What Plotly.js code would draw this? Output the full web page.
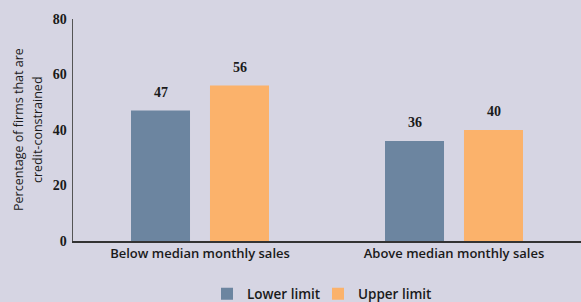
<!DOCTYPE html>
<html><head><meta charset="utf-8">
<script src="https://cdn.plot.ly/plotly-3.0.1.min.js"></script>
<style>html,body{margin:0;padding:0;background:#d6d5e3;}</style>
</head><body><div id="chart" style="width:581px;height:302px;"></div>
<script>
const categories = ["Below median monthly sales", "Above median monthly sales"];
const lowerLimit = [47, 36];
const upperLimit = [56, 40];
const seriesNames = ["Lower limit", "Upper limit"];
const yTicks = [0, 20, 40, 60, 80];
const yTitleLines = ["Percentage of firms that are", "credit-constrained"];

const colors = ["#6c85a0", "#fbb26b"];
const traces = [
  {type: "bar", name: seriesNames[0], x: categories, y: lowerLimit, marker: {color: colors[0]}, hoverinfo: "none", legend: "legend"},
  {type: "bar", name: seriesNames[1], x: categories, y: upperLimit, marker: {color: colors[1]}, hoverinfo: "none", legend: "legend2"}
];
const annotations = [];
[lowerLimit, upperLimit].forEach((vals, si) => {
  vals.forEach((v, i) => {
    annotations.push({x: categories[i], y: v, xref: "x", yref: "y", text: String(v),
      showarrow: false, yanchor: "bottom", yshift: 9, xshift: si === 0 ? -39.5 : 39.5,
      font: {family: "Liberation Serif, serif", size: 14, color: "#1a1a1a", weight: "bold"}});
  });
});
// y-axis title lines
const plotL = 73, plotW = 508;
[18, 37].forEach((px, k) => {
  annotations.push({xref: "paper", yref: "paper", x: (px - plotL) / plotW, y: 0.5 + (241 - 130 - 111) / 222,
    text: yTitleLines[k], textangle: -90, showarrow: false, xanchor: "center", yanchor: "middle",
    font: {family: "Open Sans, sans-serif", size: 12.5, color: "#1a1a1a"}});
});
const legendFont = {family: "Open Sans, sans-serif", size: 13.5, color: "#1a1a1a", weight: 600};
const layout = {
  width: 581, height: 302,
  paper_bgcolor: "#d6d5e3", plot_bgcolor: "#d6d5e3",
  margin: {l: 73, r: 0, t: 19, b: 61},
  barmode: "group", bargap: 0.378, bargroupgap: 0.253,
  showlegend: true,
  legend: {orientation: "h", x: (207 - plotL) / plotW, xanchor: "left", yref: "container", y: 8 / 302, yanchor: "middle",
    font: legendFont, bgcolor: "rgba(0,0,0,0)"},
  legend2: {orientation: "h", x: (318 - plotL) / plotW, xanchor: "left", yref: "container", y: 8 / 302, yanchor: "middle",
    font: legendFont, bgcolor: "rgba(0,0,0,0)"},
  xaxis: {type: "category", range: [-0.5, 1.5], showline: true, linecolor: "#333", linewidth: 1.5,
    ticks: "", showgrid: false, zeroline: false, automargin: false,
    tickfont: {family: "Open Sans, sans-serif", size: 13, color: "#1a1a1a", weight: 600}},
  yaxis: {range: [0, 80], tickvals: yTicks, ticktext: yTicks.map(String), showline: true,
    linecolor: "#555", linewidth: 1.5, ticks: "", showgrid: false, zeroline: false, automargin: false,
    tickfont: {family: "Liberation Serif, serif", size: 14, color: "#1a1a1a", weight: "bold"},
    ticklabelstandoff: 2},
  annotations: annotations
};
Plotly.newPlot("chart", traces, layout, {displayModeBar: false, staticPlot: true});
</script></body></html>
